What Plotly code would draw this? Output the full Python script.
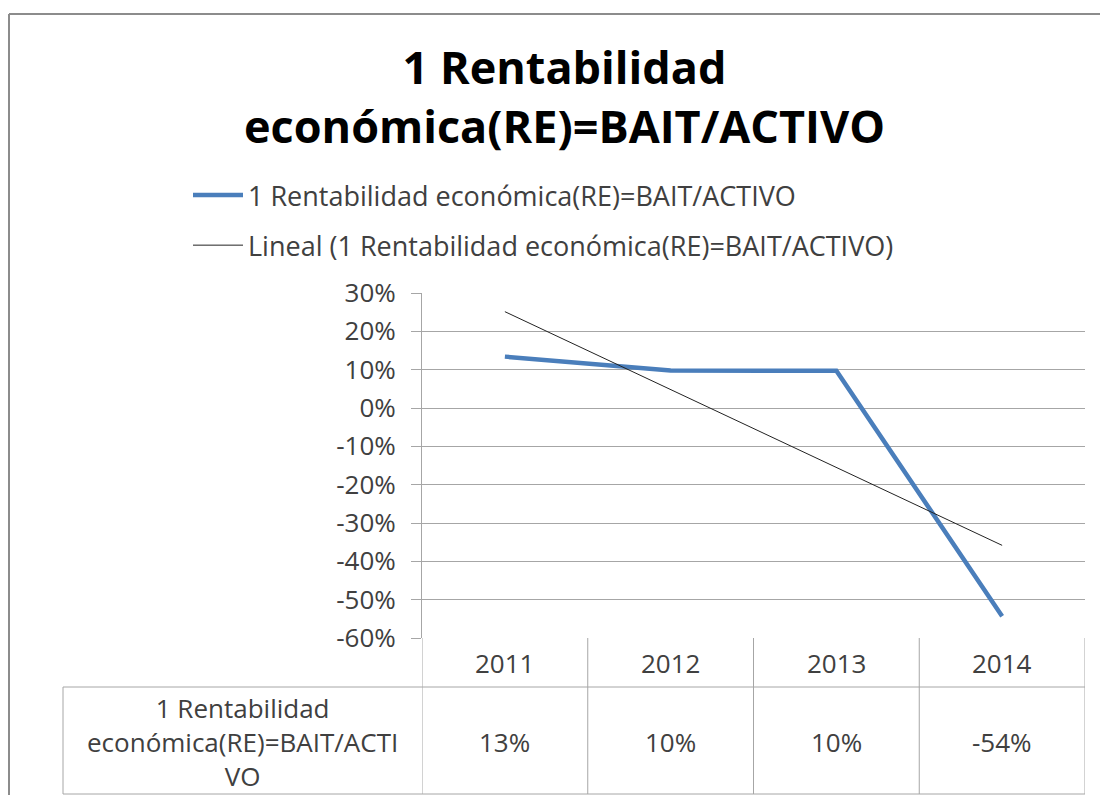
import numpy as np
import plotly.graph_objects as go

# ---- data ----
years = ["2011", "2012", "2013", "2014"]
re_values = [0.134, 0.098, 0.097, -0.543]
table_labels = ["13%", "10%", "10%", "-54%"]
y_ticks = [0.3, 0.2, 0.1, 0.0, -0.1, -0.2, -0.3, -0.4, -0.5, -0.6]
series_name = "1 Rentabilidad económica(RE)=BAIT/ACTIVO"
trend_name = "Lineal (1 Rentabilidad económica(RE)=BAIT/ACTIVO)"
row_label = "1 Rentabilidad<br>económica(RE)=BAIT/ACTI<br>VO"
title_text = "1 Rentabilidad<br>económica(RE)=BAIT/ACTIVO"

# page has an 8px body margin; figure sized to fit inside the window
OFF = 8
W, H = 1092, 787
def px(x):
    return (x - OFF) / W
def py(y):
    return 1 - (y - OFF) / H

# linear trend (least squares, as Excel "Lineal")
idx = np.arange(1, len(years) + 1)
slope, intercept = np.polyfit(idx, re_values, 1)
trend = list(slope * idx + intercept)

FONT = "Open Sans"
TXT = "#404040"
GRID = "#a6a6a6"

fig = go.Figure()
fig.add_trace(go.Scatter(x=years, y=re_values, mode="lines", name=series_name,
                         line=dict(color="#4a7ebb", width=4.5), legendgroup="a"))
fig.add_trace(go.Scatter(x=years, y=trend, mode="lines", name=trend_name,
                         line=dict(color="#222222", width=1), legendgroup="b"))

X0, X1 = 422, 1085
Y0, Y1 = 293, 638
fig.update_layout(
    template="none",
    width=W, height=H,
    margin=dict(l=0, r=0, t=0, b=0, pad=0),
    paper_bgcolor="white", plot_bgcolor="white",
    font=dict(family=FONT, color=TXT),
    xaxis=dict(domain=[px(X0), px(X1)], range=[-0.5, 3.5], type="category", automargin=False,
               showticklabels=False, showgrid=False, zeroline=False, showline=False, ticks=""),
    yaxis=dict(domain=[py(Y1), py(Y0)], range=[-0.6, 0.3], automargin=False,
               tickmode="array", tickvals=y_ticks,
               ticktext=[f"{round(v * 100):d}%" for v in y_ticks],
               showgrid=True, gridcolor=GRID, gridwidth=1,
               zeroline=False, showline=True, linecolor=GRID, linewidth=1,
               ticks="outside", ticklen=10, tickcolor=GRID,
               tickfont=dict(size=26, color=TXT, family=FONT), ticklabelstandoff=10),
    showlegend=True,
    legend=dict(x=px(188), y=py(171), xanchor="left", yanchor="top",
                font=dict(size=27, color=TXT, family=FONT), itemwidth=50,
                tracegroupgap=12, bgcolor="rgba(0,0,0,0)"),
)

# title
fig.add_annotation(text=title_text, xref="paper", yref="paper", x=px(564), y=py(96),
                   xanchor="center", yanchor="middle", showarrow=False,
                   font=dict(size=45, color="black", family=FONT, weight="bold"))

shapes = []
line = dict(color=GRID, width=1)
HB, TB = 687, 794
TL = 63
shapes.append(dict(type="line", xref="paper", yref="paper", x0=px(TL), x1=px(X1), y0=py(HB), y1=py(HB), line=line))
shapes.append(dict(type="line", xref="paper", yref="paper", x0=px(TL), x1=px(X1), y0=py(TB), y1=py(TB), line=line))
shapes.append(dict(type="line", xref="paper", yref="paper", x0=px(TL), x1=px(TL), y0=py(HB), y1=py(TB), line=line))
for b in [-0.5, 0.5, 1.5, 2.5, 3.5]:
    shapes.append(dict(type="line", xref="x", yref="paper", x0=b, x1=b, y0=py(Y1), y1=py(TB), line=line))
shapes.append(dict(type="line", xref="paper", yref="paper", x0=px(9), x1=px(9), y0=py(14), y1=0,
                   line=dict(color="#8c8c8c", width=2)))
shapes.append(dict(type="line", xref="paper", yref="paper", x0=px(9), x1=1, y0=py(14), y1=py(14),
                   line=dict(color="#8c8c8c", width=2)))
fig.update_layout(shapes=shapes)

for i, (yr, lab) in enumerate(zip(years, table_labels)):
    fig.add_annotation(text=yr, xref="x", yref="paper", x=i, y=py(663), showarrow=False,
                       xanchor="center", yanchor="middle", font=dict(size=26, color=TXT, family=FONT))
    fig.add_annotation(text=lab, xref="x", yref="paper", x=i, y=py(742), showarrow=False,
                       xanchor="center", yanchor="middle", font=dict(size=26, color=TXT, family=FONT))
fig.add_annotation(text=row_label, xref="paper", yref="paper", x=px(242), y=py(742), showarrow=False,
                   xanchor="center", yanchor="middle", align="center",
                   font=dict(size=26, color=TXT, family=FONT))

fig.write_html("out.html")
